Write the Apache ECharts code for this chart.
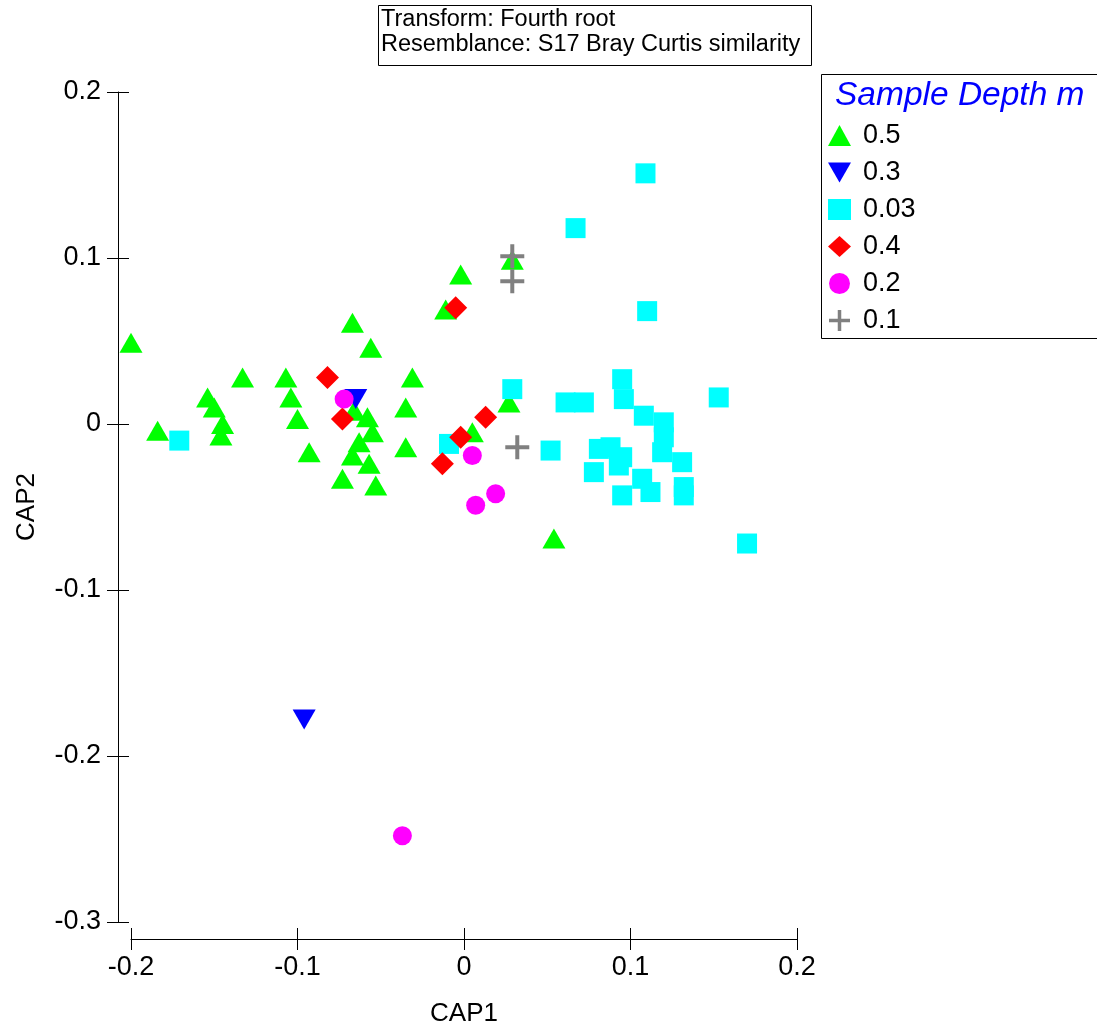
<!DOCTYPE html>
<html>
<head>
<meta charset="utf-8">
<script src="https://cdn.jsdelivr.net/npm/echarts@6/dist/echarts.min.js"></script>
<style>
html,body{margin:0;padding:0;background:#fff;}
#chart{width:1097px;height:1022px;}
</style>
</head>
<body>
<div id="chart"></div>
<script>
// ---- Data (CAP1, CAP2) ----
const groupNames = ['0.5', '0.3', '0.03', '0.4', '0.2', '0.1'];
const depth05 = [[-0.200,0.049],[-0.184,-0.004],[-0.154,0.016],[-0.150,0.010],[-0.145,0.000],[-0.146,-0.007],[-0.133,0.028],[-0.107,0.028],[-0.104,0.016],[-0.100,0.003],[-0.093,-0.017],[-0.067,0.061],[-0.056,0.046],[-0.066,0.008],[-0.058,0.004],[-0.055,-0.005],[-0.063,-0.011],[-0.067,-0.019],[-0.057,-0.024],[-0.073,-0.033],[-0.053,-0.037],[-0.031,0.028],[-0.035,0.010],[-0.035,-0.014],[-0.011,0.069],[-0.002,0.090],[0.029,0.099],[0.027,0.013],[0.005,-0.005],[0.054,-0.069]];
const depth03 = [[-0.065,0.015],[-0.096,-0.178]];
const depth003 = [[-0.171,-0.010],[-0.009,-0.012],[0.029,0.021],[0.067,0.118],[0.109,0.151],[0.110,0.068],[0.061,0.013],[0.072,0.013],[0.095,0.027],[0.096,0.015],[0.153,0.016],[0.108,0.005],[0.120,0.001],[0.120,-0.008],[0.119,-0.017],[0.052,-0.016],[0.081,-0.015],[0.088,-0.014],[0.095,-0.020],[0.093,-0.025],[0.078,-0.029],[0.131,-0.023],[0.107,-0.033],[0.112,-0.041],[0.132,-0.038],[0.132,-0.043],[0.095,-0.043],[0.170,-0.072]];
const depth04 = [[-0.082,0.028],[-0.073,0.003],[-0.005,0.070],[0.013,0.004],[-0.002,-0.008],[-0.013,-0.024]];
const depth02 = [[-0.072,0.015],[0.005,-0.019],[0.019,-0.042],[0.007,-0.049],[-0.037,-0.248]];
const depth01 = [[0.029,0.101],[0.029,0.086],[0.032,-0.014]];
const xTicks = {min: -0.2, max: 0.2, interval: 0.1};
const yTicks = {min: -0.3, max: 0.2, interval: 0.1};
const titleLines = ['Transform: Fourth root', 'Resemblance: S17 Bray Curtis similarity'];
const legendTitle = 'Sample Depth m';

const FONT = 'Arial, "Liberation Sans", Helvetica, sans-serif';
const PLUS = 'path://M10,0H14V10H24V14H14V24H10V14H0V10H10Z';
const DOWN_TRI = 'path://M0,0L23,0L11.5,20Z';

function fmt(v){ const r = Math.round(v*10)/10; return r === 0 ? '0' : String(r); }

const chart = echarts.init(document.getElementById('chart'), null, {renderer: 'canvas'});
const option = {
  backgroundColor: '#fff',
  animation: false,
  grid: {left: 131, top: 92, width: 666, height: 830, containLabel: false, outerBoundsMode: 'none'},
  xAxis: [
    {
      type: 'value', min: xTicks.min, max: xTicks.max, interval: xTicks.interval,
      position: 'bottom', offset: 17, splitLine: {show: false},
      axisLine: {show: true, onZero: false, lineStyle: {color: '#000', width: 1}},
      axisTick: {show: true, inside: false, length: 11, lineStyle: {color: '#000', width: 1}},
      axisLabel: {show: true, margin: 15, fontSize: 27, color: '#000', fontFamily: FONT, formatter: fmt},
      name: 'CAP1', nameLocation: 'middle', nameGap: 62,
      nameTextStyle: {fontSize: 26, color: '#000', fontFamily: FONT}
    },
    {
      type: 'value', min: xTicks.min, max: xTicks.max, interval: xTicks.interval,
      position: 'bottom', offset: 17, splitLine: {show: false},
      axisLine: {show: false, onZero: false},
      axisTick: {show: true, inside: true, length: 11, lineStyle: {color: '#000', width: 1}},
      axisLabel: {show: false}
    }
  ],
  yAxis: [
    {
      type: 'value', min: yTicks.min, max: yTicks.max, interval: yTicks.interval,
      position: 'left', offset: 13, splitLine: {show: false},
      axisLine: {show: true, onZero: false, lineStyle: {color: '#000', width: 1}},
      axisTick: {show: true, inside: false, length: 11, lineStyle: {color: '#000', width: 1}},
      axisLabel: {show: true, margin: 17, fontSize: 27, color: '#000', fontFamily: FONT, formatter: fmt},
      name: 'CAP2', nameLocation: 'middle', nameGap: 78,
      nameTextStyle: {fontSize: 26, color: '#000', fontFamily: FONT}
    },
    {
      type: 'value', min: yTicks.min, max: yTicks.max, interval: yTicks.interval,
      position: 'left', offset: 13, splitLine: {show: false},
      axisLine: {show: false, onZero: false},
      axisTick: {show: true, inside: true, length: 11, lineStyle: {color: '#000', width: 1}},
      axisLabel: {show: false}
    }
  ],
  legend: {
    orient: 'vertical', left: 828, top: 122, padding: 0,
    itemWidth: 23, itemHeight: 21, itemGap: 10,
    textStyle: {fontSize: 27, color: '#000', fontFamily: FONT, padding: [0,0,0,7]},
    data: groupNames.map((n, i) => i === 1 ? {name: n, icon: DOWN_TRI} : {name: n})
  },
  graphic: [
    {type: 'rect', shape: {x: 378.5, y: 5.5, width: 433, height: 60}, style: {fill: '#fff', stroke: '#000', lineWidth: 1}, z: 10},
    {type: 'text', left: 381, top: 8, style: {text: titleLines[0], fontSize: 23.5, fontFamily: FONT, fill: '#000'}, z: 11},
    {type: 'text', left: 381, top: 33, style: {text: titleLines[1], fontSize: 23.5, fontFamily: FONT, fill: '#000'}, z: 11},
    {type: 'rect', shape: {x: 821.5, y: 74.5, width: 300, height: 264}, style: {fill: 'rgba(0,0,0,0)', stroke: '#000', lineWidth: 1}, z: 10},
    {type: 'text', left: 835, top: 79, style: {text: legendTitle, fontSize: 33.5, fontStyle: 'italic', fontFamily: FONT, fill: '#0000ff'}, z: 11}
  ],
  series: [
    {name: groupNames[0], type: 'scatter', data: depth05, symbol: 'triangle', symbolSize: [23, 20], itemStyle: {color: '#00ff00', opacity: 1}},
    {name: groupNames[1], type: 'scatter', data: depth03, symbol: DOWN_TRI, symbolSize: [23, 20], itemStyle: {color: '#0000ff', opacity: 1}},
    {name: groupNames[2], type: 'scatter', data: depth003, symbol: 'rect', symbolSize: 20, itemStyle: {color: '#00ffff', opacity: 1}},
    {name: groupNames[3], type: 'scatter', data: depth04, symbol: 'diamond', symbolSize: 23, itemStyle: {color: '#ff0000', opacity: 1}},
    {name: groupNames[4], type: 'scatter', data: depth02, symbol: 'circle', symbolSize: 19, itemStyle: {color: '#ff00ff', opacity: 1}},
    {name: groupNames[5], type: 'scatter', data: depth01, symbol: PLUS, symbolSize: 24, itemStyle: {color: '#808080', opacity: 1}}
  ]
};
chart.setOption(option);
</script>
</body>
</html>
